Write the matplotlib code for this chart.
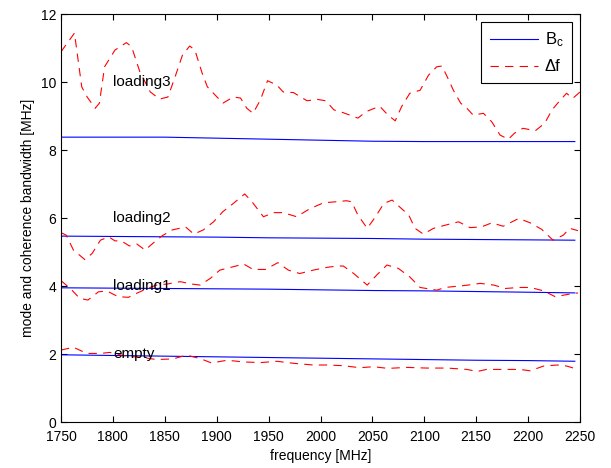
"""Mode bandwidth (dashed) vs coherence bandwidth (solid) over frequency,
for the empty chamber and three loading states."""
import matplotlib
matplotlib.use("Agg")
import matplotlib.pyplot as plt

plt.rcParams["font.family"] = ["Liberation Sans", "DejaVu Sans"]
plt.rcParams["mathtext.fontset"] = "custom"
plt.rcParams["mathtext.rm"] = "Liberation Sans"
plt.rcParams["mathtext.it"] = "Liberation Sans"
plt.rcParams["lines.scale_dashes"] = False

# coherence bandwidth B_c (smooth, solid blue)
f_bc = [1750, 1800, 1850, 1900, 1950, 2000, 2050, 2100, 2150, 2200, 2245]
bc_loading3 = [8.38, 8.38, 8.38, 8.35, 8.32, 8.29, 8.26, 8.25, 8.25, 8.25, 8.25]
bc_loading2 = [5.47, 5.46, 5.45, 5.44, 5.42, 5.41, 5.40, 5.38, 5.37, 5.36, 5.35]
bc_loading1 = [3.95, 3.94, 3.93, 3.92, 3.91, 3.89, 3.87, 3.86, 3.84, 3.82, 3.80]
bc_empty    = [1.98, 1.96, 1.94, 1.92, 1.90, 1.88, 1.86, 1.84, 1.82, 1.81, 1.79]

# mode bandwidth delta f (dashed red)
f_l3 = [1750, 1763, 1770, 1775, 1783, 1787, 1792, 1802, 1813, 1818, 1826, 1836,
        1845, 1853, 1860, 1867, 1874, 1879, 1886, 1891, 1900, 1906, 1916, 1923,
        1929, 1935, 1942, 1949, 1958, 1964, 1974, 1987, 1997, 2005, 2013, 2020,
        2028, 2036, 2044, 2057, 2065, 2072, 2078, 2086, 2096, 2104, 2112, 2117,
        2122, 2128, 2135, 2141, 2147, 2157, 2165, 2173, 2181, 2187, 2195, 2207,
        2216, 2223, 2231, 2237, 2243, 2250]
df_l3 = [10.89, 11.44, 9.86, 9.57, 9.23, 9.38, 10.45, 10.94, 11.16, 11.04, 10.30, 9.71,
         9.50, 9.56, 10.16, 10.79, 11.06, 10.94, 10.26, 9.86, 9.57, 9.38, 9.56, 9.53,
         9.23, 9.08, 9.47, 10.04, 9.91, 9.71, 9.69, 9.45, 9.49, 9.45, 9.18, 9.12,
         9.03, 8.94, 9.13, 9.29, 9.03, 8.86, 9.27, 9.67, 9.76, 10.20, 10.45, 10.47,
         10.16, 9.76, 9.38, 9.23, 9.03, 9.08, 8.83, 8.44, 8.32, 8.50, 8.64, 8.57,
         8.79, 9.18, 9.47, 9.67, 9.52, 9.71]

f_l2 = [1750, 1755, 1762, 1773, 1780, 1788, 1796, 1802, 1808, 1816, 1823, 1831,
        1839, 1847, 1857, 1870, 1878, 1887, 1897, 1906, 1916, 1927, 1934, 1945,
        1955, 1964, 1977, 1990, 2003, 2015, 2025, 2030, 2036, 2045, 2053, 2061,
        2069, 2078, 2085, 2091, 2099, 2109, 2120, 2133, 2144, 2155, 2165, 2176,
        2191, 2202, 2213, 2224, 2234, 2240, 2248]
df_l2 = [5.57, 5.50, 5.06, 4.78, 4.96, 5.35, 5.45, 5.33, 5.33, 5.18, 5.24, 5.06,
         5.27, 5.47, 5.65, 5.74, 5.53, 5.65, 5.89, 6.19, 6.43, 6.71, 6.48, 6.04,
         6.16, 6.16, 6.04, 6.28, 6.45, 6.48, 6.51, 6.48, 6.09, 5.70, 6.04, 6.43,
         6.53, 6.28, 6.09, 5.70, 5.53, 5.70, 5.79, 5.89, 5.72, 5.74, 5.86, 5.76,
         5.99, 5.86, 5.67, 5.35, 5.50, 5.70, 5.63]

f_l1 = [1750, 1759, 1768, 1776, 1786, 1794, 1805, 1815, 1823, 1833, 1842, 1852,
        1865, 1876, 1884, 1894, 1903, 1916, 1926, 1935, 1947, 1959, 1969, 1980,
        1993, 2006, 2016, 2022, 2032, 2045, 2054, 2064, 2075, 2086, 2096, 2112,
        2120, 2133, 2142, 2154, 2167, 2178, 2191, 2202, 2215, 2226, 2239, 2248]
df_l1 = [4.16, 3.93, 3.64, 3.59, 3.83, 3.86, 3.69, 3.67, 3.79, 3.93, 4.03, 4.06,
         4.13, 4.06, 4.03, 4.23, 4.47, 4.57, 4.65, 4.49, 4.49, 4.69, 4.47, 4.37,
         4.47, 4.55, 4.59, 4.59, 4.37, 4.03, 4.32, 4.62, 4.52, 4.27, 3.96, 3.88,
         3.96, 4.00, 4.03, 4.08, 4.03, 3.93, 3.96, 3.96, 3.86, 3.69, 3.76, 3.80]

f_em = [1750, 1762, 1775, 1788, 1797, 1813, 1829, 1842, 1858, 1871, 1884, 1895,
        1910, 1926, 1942, 1958, 1974, 1993, 2006, 2022, 2038, 2051, 2065, 2083,
        2102, 2122, 2141, 2151, 2160, 2176, 2192, 2202, 2215, 2228, 2237, 2247]
df_em = [2.12, 2.20, 2.02, 2.02, 2.05, 1.94, 1.90, 1.84, 1.86, 1.97, 1.87, 1.74,
         1.82, 1.77, 1.75, 1.79, 1.73, 1.68, 1.68, 1.66, 1.60, 1.63, 1.58, 1.61,
         1.59, 1.59, 1.55, 1.49, 1.55, 1.55, 1.55, 1.51, 1.65, 1.68, 1.65, 1.56]

labels = ["loading3", "loading2", "loading1", "empty"]
label_y = [10, 6, 4, 2]

fig = plt.figure(figsize=(6.11, 4.68), dpi=100)
ax = fig.add_axes([0.0998, 0.098, 0.8495, 0.872])

BLUE, RED = "#0000ff", "#ff0000"
dash = dict(color=RED, lw=0.8, ls=(0, (6, 4.5)))
for i, bc in enumerate([bc_loading3, bc_loading2, bc_loading1, bc_empty]):
    ax.plot(f_bc, bc, color=BLUE, lw=0.8, label="B$_\\mathregular{c}$" if i == 0 else None)
for i, (f, d) in enumerate([(f_l3, df_l3), (f_l2, df_l2), (f_l1, df_l1), (f_em, df_em)]):
    ax.plot(f, d, label="Δf" if i == 0 else None, **dash)

for name, y in zip(labels, label_y):
    ax.text(1800, y, name, va="center", ha="left", fontsize=11)

ax.set_xlim(1750, 2250)
ax.set_ylim(0, 12)
ax.set_xticks(range(1750, 2251, 50))
ax.set_yticks(range(0, 13, 2))
ax.tick_params(direction="in", top=True, right=True, length=4, labelsize=10)
ax.tick_params(axis="x", pad=6)
ax.set_xlabel("frequency [MHz]", fontsize=10, labelpad=3)
ax.set_ylabel("mode and coherence bandwidth [MHz]", fontsize=10, labelpad=4)

leg = ax.legend(loc="upper right", fontsize=12, fancybox=False, framealpha=1,
                edgecolor="black", handlelength=2.9, handletextpad=0.4,
                borderaxespad=0.5, borderpad=0.5, labelspacing=0.6)
leg.get_frame().set_linewidth(0.8)

fig.savefig("out.png", dpi=100)
